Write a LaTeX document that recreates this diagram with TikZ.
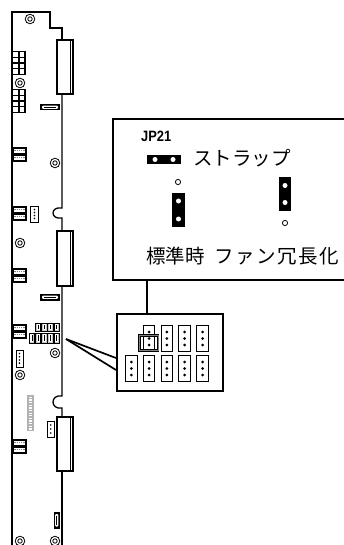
\documentclass[tikz,border=0pt]{standalone}
\usepackage{graphicx}
\usepackage{fontspec}
\setmainfont{Liberation Sans}
\newfontfamily\jpfont{Noto Sans CJK JP}
\tikzset{
  board/.style={line width=1.3pt},
  callbox/.style={line width=1.7pt},
  mhole/.style={line width=0.8pt},
  pinblk/.style={draw, line width=1pt, fill=white},
  jtext/.style={anchor=base west, inner sep=0pt, font=\jpfont\fontsize{19.5}{20}\selectfont},
}
\begin{document}
\begin{tikzpicture}[x=1pt,y=-1pt,line join=miter]
\useasboundingbox (0,0) rectangle (344,545);

% ---------- board outline ----------
\draw[board] (12,545) -- (12,12) -- (50,12) -- (50,28) -- (62,28) -- (62,40);
\draw[board] (62,94) -- (62,208) .. controls (50,206) and (50,220) .. (62,218) -- (62,231);
\draw[board] (62,286) -- (62,396) .. controls (50,394) and (50,410) .. (62,408) -- (62,417);
\draw[board] (62,471) -- (62,545);
% edge connectors
\foreach \ya/\yb in {40/94,231/286,417/471}{
  \draw[board,fill=white] (57,\ya) rectangle (73,\yb);
  \draw[line width=0.9pt] (70,\ya) -- (70,\yb);
}

% ---------- mounting holes ----------
\foreach \p in {(30,19),(20,83),(55,163),(20,243),(55,353),(20,375),(20,541),(55,541)}
  \draw[mhole] \p circle (4.8) \p circle (2.2);

% ---------- 8-pin blocks ----------
\foreach \y in {51,89}{
  \fill (12,\y) rectangle (26,\y+24);
  \foreach \c in {0,1}
    \foreach \r in {0,...,3}
      \fill[white] (13.4+\c*6.2,\y+1.4+\r*5.7) rectangle ++(4.8,4.3);
}

% ---------- 2-row blocks ----------
\foreach \y in {147,206,268,324,439}{
  \fill (12,\y) rectangle (27,\y+15);
  \fill[white] (13.6,\y+2.4) rectangle (25.4,\y+6.2);
  \fill[white] (13.6,\y+8.8) rectangle (25.4,\y+12.6);
  \draw[gray,line width=0.7pt,dash pattern=on 1.3pt off 1pt] (14.2,\y+3.6) -- (25,\y+3.6);
  \draw[gray,line width=0.7pt,dash pattern=on 1.3pt off 1pt] (14.2,\y+10) -- (25,\y+10);
}

% ---------- small horizontal connectors ----------
\foreach \y in {104,294}{
  \fill (40,\y) rectangle (60,\y+6.5);
  \fill[white,rounded corners=1pt] (42,\y+1.7) rectangle (58,\y+4.8);
  \draw[line width=0.6pt] (44,\y+3.25) -- (56,\y+3.25);
}
% vertical connector near bottom
\fill (53.5,512) rectangle (60,528.5);
\fill[white,rounded corners=1pt] (55.2,514) rectangle (58.3,526.5);
\draw[line width=0.6pt] (56.75,515.5) -- (56.75,525);

% ---------- small pin boxes ----------
\draw[line width=0.9pt,fill=white] (30.5,206) rectangle (38.5,222);
\foreach \y in {209.5,212.5,215.5,218.5} \fill (34.5,\y) circle (0.9);
\draw[line width=0.9pt,fill=white] (16,350) rectangle (23,367);
\foreach \y in {353.5,356.7,359.9,363.1} \fill (19.5,\y) circle (0.9);
\draw[line width=0.9pt,fill=white] (47,421) rectangle (54.5,437);
\foreach \y in {425,429,433} \fill (50.75,\y) circle (0.95);

% gray long connector
\fill[gray!60] (27,395) rectangle (34,431);
\foreach \i in {0,...,12} \fill[white] (28.6,396.6+\i*2.65) rectangle (32.4,397.9+\i*2.65);

% ---------- small jumper group on board ----------
\foreach \j in {0,...,3}{
  \draw[line width=0.5pt,fill=gray!45] (35.3+\j*6.2,323) rectangle ++(5.4,8);
  \fill[white] (36.5+\j*6.2,324.3) rectangle ++(3,5.4);
  \draw[line width=0.5pt] (38+\j*6.2,325) -- ++(0,4);
}
\foreach \j in {0,...,4}{
  \draw[line width=0.5pt,fill=gray!45] (29.1+\j*6.2,333) rectangle ++(5.4,10);
  \fill[white] (30.3+\j*6.2,334.3) rectangle ++(3,7.4);
  \draw[line width=0.5pt] (31.8+\j*6.2,335) -- ++(0,6);
}

% ---------- magnified view ----------
\node[draw,callbox,minimum width=106pt,minimum height=77pt,inner sep=0pt,anchor=north west] (zoom) at (116,313) {};
\coordinate (tip) at (66,339);
\draw[callbox] (tip) -- (zoom.west |- 0,358);
\draw[callbox] (tip) -- (zoom.west |- 0,370);

\foreach \i in {1,...,4}{
  \node[pinblk,minimum width=11.6pt,minimum height=26pt,inner sep=0pt,anchor=north west] (t\i) at (125+\i*17.8,325) {};
  \foreach \d in {-6.5,0,6.5} \fill ([yshift=\d pt]t\i.center) circle (1.5);
}
\foreach \i in {0,...,4}{
  \node[pinblk,minimum width=11.6pt,minimum height=26pt,inner sep=0pt,anchor=north west] (b\i) at (125+\i*17.8,355) {};
  \foreach \d in {-6.5,0,6.5} \fill ([yshift=\d pt]b\i.center) circle (1.5);
}
% jumper cap
\draw[line width=1.1pt,double=gray,double distance=0.7pt] (139.6,335.3) rectangle (158,350.8);

% ---------- callout box ----------
\coordinate (cbl) at (113,280);
\draw[callbox] (344,119) -- (113,119) -- (cbl) -- (344,280);
\coordinate (cb) at (147,280);
\draw[callbox] (cb) -- (cb |- zoom.north);

\node[anchor=base west,inner sep=0pt,font=\fontsize{15}{15}\selectfont\bfseries] (jp) at (141,141.5) {\scalebox{0.86}[1]{JP21}};

% strap symbol
\fill (146.7,155) rectangle (181,164);
\fill[white] (155,159.5) circle (2.5) (173,159.5) circle (2.5);
\node[jtext] (strap) at (193,165.5) {ストラップ};

% standard setting
\draw[line width=0.8pt] (178,182) circle (2.6);
\fill (172,193) rectangle (185,227);
\fill[white] (178.5,201) circle (2.5) (178.5,219) circle (2.5);
\node[jtext] (std) at (146,263) {標準時};

% fan redundancy setting
\fill (279,177) rectangle (291,211);
\fill[white] (285,185.5) circle (2.5) (285,202.5) circle (2.5);
\draw[line width=0.8pt] (285,223) circle (2.6);
\node[jtext] (fan) at (214,263) {\addfontfeature{LetterSpace=8}ファン冗長化};

\end{tikzpicture}
\end{document}
